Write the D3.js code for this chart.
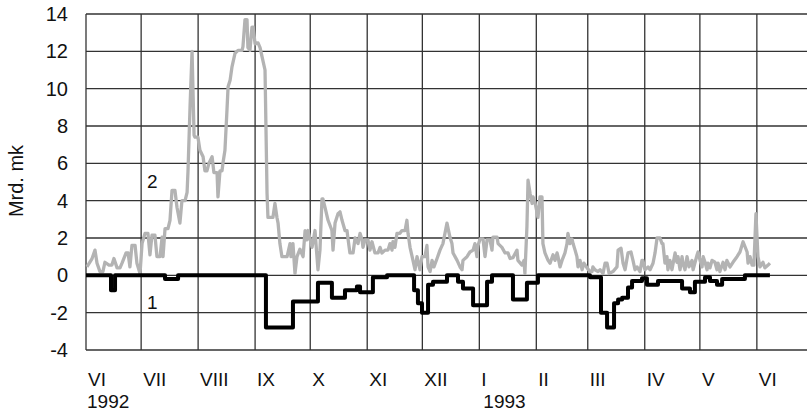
<!DOCTYPE html>
<html lang="en">
<head>
<meta charset="UTF-8">
<title>Mrd. mk 1992-1993</title>
<script src="https://cdnjs.cloudflare.com/ajax/libs/d3/7.8.5/d3.min.js"></script>
<style>
  body { margin: 0; background: #fff; }
  svg { display: block; font-family: "Liberation Sans", Arial, sans-serif; }
</style>
</head>
<body>
<svg width="807" height="413"></svg>
<script>
// days are counted from 1 June 1992
const startDate = new Date(1992, 5, 1);
const monthLabels = ["VI", "VII", "VIII", "IX", "X", "XI", "XII", "I", "II", "III", "IV", "V", "VI"];
const yearLabels = [["1992", 0], ["1993", 7]];   // [text, month index]
const yTicks = [-4, -2, 0, 2, 4, 6, 8, 10, 12, 14];
const seriesNames = ["1", "2"];

// series 1 (black, step line): [day, value]
const series1 = [
  [0, 0], [13.6, -0.8], [15.8, 0], [43, -0.2], [50.1, 0], [97.9, -2.8], [112.6, -1.4],
  [126.2, -0.4], [133.8, -1.2], [140.9, -0.8], [147.4, -0.6], [149.1, -0.9], [156.1, -0.1],
  [163.8, 0], [178.5, -0.8], [180.6, -1.5], [182.8, -2.0], [186.1, -0.5], [188.8, -0.35],
  [196.4, 0], [202.4, -0.35], [205.1, -0.7], [210.6, -1.6], [218.2, -0.35], [220.9, 0],
  [232.3, -1.3], [239.9, -0.4], [245.9, 0], [274.2, -0.1], [280.2, -2.0], [283.5, -2.8],
  [287.3, -1.5], [289.5, -1.3], [291.7, -1.2], [294.9, -0.65], [297.1, -0.3], [302.5, -0.15],
  [305.2, -0.5], [311.2, -0.3], [324.3, -0.7], [328.6, -0.9], [331.3, -0.35], [336.8, -0.1],
  [339.5, -0.3], [343.3, -0.5], [346.1, -0.2], [358.5, 0], [372.1, 0]
];

// series 2 (grey): [day, value]
const series2 = [
  [0.5, 0.45], [3.3, 0.9], [4.9, 1.35], [6.0, 0.65], [7.6, 0.2], [9.2, 0.2], [10.3, 0.7],
  [12.5, 0.55], [14.1, 0.55], [15.2, 0.9], [16.9, 0.4], [18.5, 0.4], [19.6, 0.65], [21.8, 1.2],
  [22.9, 1.2], [23.9, 0.45], [25.0, 1.6], [26.7, 1.6], [27.7, 0.65], [29.4, 0.1], [30.5, 1.7],
  [32.1, 2.25], [33.7, 2.25], [34.8, 1.1], [35.9, 2.15], [37.5, 2.15], [38.6, 1.0], [40.3, 1.0],
  [41.4, 2.05], [41.9, 1.0], [43.0, 2.5], [44.6, 2.5], [45.7, 2.95], [46.8, 4.55], [48.4, 4.55],
  [49.5, 3.65], [51.1, 2.8], [52.2, 4.0], [53.9, 4.0], [55.0, 4.45], [55.5, 5.6], [56.6, 9.0],
  [57.7, 12.0], [58.8, 7.5], [59.3, 7.4], [60.9, 7.4], [62.0, 6.7], [63.7, 6.35], [64.7, 5.6],
  [65.8, 5.6], [66.9, 6.0], [68.6, 6.35], [69.6, 5.5], [71.3, 5.5], [71.8, 4.2], [72.9, 5.6],
  [74.0, 5.6], [74.5, 6.0], [75.6, 6.7], [76.7, 8.85], [77.3, 10.1], [78.4, 10.45], [79.4, 11.15],
  [81.1, 11.9], [82.7, 12.05], [84.9, 12.05], [85.4, 12.25], [86.5, 13.7], [87.6, 13.7],
  [88.1, 12.2], [89.2, 12.05], [90.3, 13.3], [90.9, 13.3], [92.0, 12.4], [93.6, 12.45],
  [94.7, 12.2], [95.8, 11.7], [97.4, 11.0], [98.5, 4.4], [99.0, 3.1], [101.7, 3.1], [102.8, 3.85],
  [103.9, 3.1], [104.5, 2.8], [105.5, 1.7], [106.6, 1.0], [109.4, 1.0], [111.0, 1.7], [111.5, 1.0],
  [112.6, 1.7], [113.7, 0.1], [114.8, 1.0], [116.4, 1.4], [118.1, 1.0], [119.2, 2.4], [120.2, 1.9],
  [120.8, 2.4], [123.0, 1.5], [124.6, 2.4], [126.2, 0.3], [127.3, 1.35], [128.4, 4.1], [128.9, 4.1],
  [130.0, 3.65], [131.7, 2.95], [133.8, 2.4], [134.4, 1.35], [135.5, 2.8], [137.1, 3.3], [138.2, 3.4],
  [139.3, 2.95], [140.9, 2.4], [142.0, 2.4], [142.5, 2.0], [143.6, 1.2], [145.3, 1.2], [146.4, 2.0],
  [148.0, 1.7], [149.1, 2.25], [150.2, 1.9], [150.7, 1.5], [151.8, 1.9], [153.4, 1.9], [154.5, 1.35],
  [155.6, 1.8], [157.2, 1.2], [158.9, 1.2], [160.0, 1.5], [161.0, 1.2], [162.7, 1.35], [164.3, 1.35],
  [165.4, 1.7], [166.5, 1.35], [167.0, 1.8], [168.1, 1.5], [169.2, 2.25], [170.8, 2.25], [171.9, 2.4],
  [173.6, 2.4], [174.6, 2.95], [175.2, 2.25], [176.3, 1.5], [177.9, 0.8], [179.0, 0.3], [180.1, 1.0],
  [181.7, 0.3], [182.8, 1.0], [184.4, 1.0], [185.5, 1.6], [186.1, 0.45], [187.2, 0.2], [188.3, 0.8],
  [189.3, 0.45], [191.0, 0.9], [192.6, 1.35], [194.2, 1.7], [196.4, 2.8], [198.0, 2.05], [199.1, 1.7],
  [199.7, 1.2], [201.9, 0.8], [203.5, 0.45], [204.6, 0.3], [205.1, 0.8], [207.3, 1.0], [208.9, 1.25],
  [210.6, 1.35], [211.6, 1.7], [212.7, 1.0], [213.3, 1.6], [214.4, 1.95], [216.0, 1.95], [217.1, 1.0],
  [218.2, 1.9], [219.8, 1.9], [220.9, 1.35], [221.4, 2.05], [223.6, 2.05], [224.2, 1.7], [226.3, 1.5],
  [228.0, 1.2], [229.6, 1.2], [230.7, 0.9], [232.3, 0.95], [234.5, 1.35], [235.0, 0.8], [237.2, 0.55],
  [238.3, 0.8], [238.8, 0.1], [239.9, 2.6], [240.5, 5.1], [241.6, 4.4], [242.7, 3.85], [243.2, 4.2],
  [244.3, 3.9], [245.9, 3.1], [247.0, 4.2], [248.1, 4.2], [248.6, 1.7], [249.7, 1.2], [251.4, 0.8],
  [252.5, 0.65], [254.1, 1.1], [255.2, 0.8], [256.3, 1.2], [256.8, 1.0], [257.9, 0.45], [259.0, 0.8],
  [260.6, 1.2], [261.7, 1.7], [262.2, 2.25], [263.3, 1.7], [264.4, 1.95], [265.0, 1.7], [266.1, 1.35],
  [267.1, 1.0], [267.7, 0.45], [268.8, 0.8], [269.9, 0.3], [270.9, 0.65], [272.6, 0.4], [274.2, 0.2],
  [275.3, 0.2], [275.8, 0.45], [276.9, 0.3], [278.6, 0.2], [279.7, 0.3], [281.3, 0.1], [282.4, 0.65],
  [283.5, 0.65], [284.6, 0.1], [286.7, 0.2], [288.9, 0.45], [289.5, 1.35], [291.1, 1.45], [292.2, 0.65],
  [293.3, 0.3], [294.9, 1.2], [296.5, 1.25], [297.6, 0.8], [298.7, 0.3], [299.8, 0.45], [301.4, 0.2],
  [302.5, 0.8], [303.0, 0.8], [304.1, 0.3], [305.8, 0.45], [306.9, 0.3], [308.5, 0.65], [309.6, 1.2],
  [310.7, 2.0], [312.3, 2.0], [313.4, 1.7], [313.9, 1.7], [315.0, 0.65], [316.1, 1.0], [316.6, 0.3],
  [317.7, 0.8], [318.8, 0.3], [320.5, 1.2], [321.5, 0.7], [322.1, 1.0], [323.2, 0.3], [324.3, 1.0],
  [324.8, 0.65], [325.9, 0.3], [327.0, 1.0], [328.1, 0.45], [329.7, 0.8], [330.3, 0.3], [332.5, 1.1],
  [333.0, 1.25], [334.1, 0.8], [335.2, 0.45], [335.8, 1.0], [336.8, 0.7], [337.9, 0.3], [338.4, 0.65],
  [339.5, 0.4], [340.6, 0.8], [342.2, 0.7], [343.3, 0.3], [343.9, 0.65], [344.9, 0.2], [346.6, 0.7],
  [347.7, 0.3], [348.7, 0.8], [350.4, 0.45], [352.0, 0.7], [354.2, 1.0], [355.8, 1.25], [357.5, 1.8],
  [359.7, 1.25], [360.2, 0.65], [361.3, 1.0], [362.4, 0.55], [363.4, 0.55], [364.5, 3.3], [365.6, 1.0],
  [366.7, 0.45], [368.3, 0.7], [369.4, 0.4], [371.1, 0.55], [372.1, 0.65]
];

const dayToDate = d => new Date(startDate.getTime() + d * 864e5);

const svg = d3.select("svg");
const plotLeft = 86, plotTop = 14, plotBottom = 350, plotRight = 812;

const x = d3.scaleTime()
  .domain([startDate, new Date(1993, 6, 1)])
  .range([plotLeft, plotRight]);
const y = d3.scaleLinear()
  .domain([-4, 14])
  .range([plotBottom, plotTop]);

const months = d3.timeMonth.range(startDate, new Date(1993, 5, 2));

// grid
const grid = svg.append("g").attr("stroke", "#333").attr("stroke-width", 1.3);
grid.selectAll("line.h")
  .data(yTicks)
  .join("line")
  .attr("class", "h")
  .attr("x1", plotLeft).attr("x2", plotRight)
  .attr("y1", d => y(d)).attr("y2", d => y(d));
grid.selectAll("line.v")
  .data(months)
  .join("line")
  .attr("class", "v")
  .attr("x1", d => x(d)).attr("x2", d => x(d))
  .attr("y1", plotTop).attr("y2", plotBottom);

// y tick labels
svg.append("g")
  .attr("font-size", 20)
  .attr("text-anchor", "end")
  .attr("fill", "#111")
  .selectAll("text")
  .data(yTicks)
  .join("text")
  .attr("x", 68)
  .attr("y", d => y(d))
  .attr("dy", "0.35em")
  .text(d => d);

// month labels
svg.append("g")
  .attr("font-size", 19)
  .attr("fill", "#111")
  .selectAll("text")
  .data(months)
  .join("text")
  .attr("x", d => x(d) + 2)
  .attr("y", 386)
  .text((d, i) => monthLabels[i]);

svg.append("g")
  .attr("font-size", 19)
  .attr("fill", "#111")
  .selectAll("text")
  .data(yearLabels)
  .join("text")
  .attr("x", d => x(months[d[1]]) + (d[1] === 0 ? 1 : 4))
  .attr("y", 408)
  .text(d => d[0]);

svg.append("text")
  .attr("transform", "translate(23,181) rotate(-90)")
  .attr("text-anchor", "middle")
  .attr("font-size", 20)
  .attr("fill", "#111")
  .text("Mrd. mk");

// series
const line = d3.line()
  .x(d => x(dayToDate(d[0])))
  .y(d => y(d[1]));

svg.append("path")
  .datum(series2)
  .attr("fill", "none")
  .attr("stroke", "#b3b3b3")
  .attr("stroke-width", 3.3)
  .attr("stroke-linejoin", "round")
  .attr("d", line);

svg.append("path")
  .datum(series1)
  .attr("fill", "none")
  .attr("stroke", "#000")
  .attr("stroke-width", 4)
  .attr("stroke-linejoin", "round")
  .attr("d", line.curve(d3.curveStepAfter));

// series labels
svg.append("g")
  .attr("font-size", 19)
  .attr("fill", "#111")
  .selectAll("text")
  .data([[seriesNames[1], 4.7], [seriesNames[0], -1.8]])
  .join("text")
  .attr("x", 147)
  .attr("y", d => y(d[1]))
  .text(d => d[0]);
</script>
</body>
</html>
